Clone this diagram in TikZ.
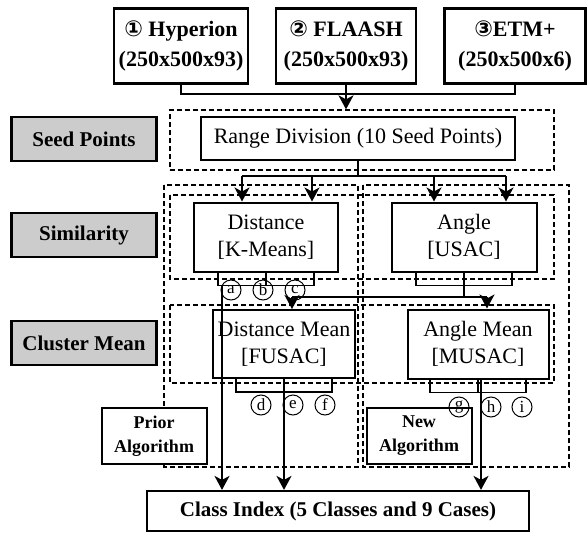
\documentclass[tikz,border=0pt]{standalone}
\usepackage{fontspec}
\setmainfont{Liberation Serif}
\newfontfamily\circfont{DejaVu Sans}
\usetikzlibrary{arrows.meta}

\begin{document}
\begin{tikzpicture}[x=1pt, y=-1pt,
	font=\fontsize{22}{27}\selectfont,
	srcbox/.style={draw, line width=2.2pt, fill=white, align=center, inner sep=0pt, font=\fontsize{22}{30}\selectfont\bfseries},
	stagebox/.style={draw, line width=2.2pt, fill=gray!40, inner sep=0pt, minimum width=145pt, minimum height=44pt, font=\fontsize{21}{24}\selectfont\bfseries},
	procbox/.style={draw, line width=2pt, fill=white, align=center, inner sep=0pt},
	algbox/.style={draw, line width=2pt, fill=white, align=center, inner sep=0pt, minimum width=105pt, minimum height=56pt, font=\fontsize{18}{24}\selectfont\bfseries},
	grp/.style={draw, line width=1.3pt, dash pattern=on 5pt off 3pt},
	link/.style={line width=1.9pt},
	comb/.style={line width=1.5pt},
	arr/.style={link, -{Stealth[length=14pt, width=15pt, inset=4pt]}},
	case/.style={draw, circle, line width=1pt, minimum size=20pt, inner sep=0pt, font=\fontsize{17}{17}\selectfont}]
	\useasboundingbox (0,0) rectangle (587,533);
	% dashed groups
	\draw[grp] (164,185) rectangle (358,467);
	\draw[grp] (363,185) rectangle (569,467);
	\draw[grp] (170,195) rectangle (554,279);
	\draw[grp] (170,305) rectangle (554,383);
	\node[grp, minimum width=384pt, minimum height=60pt] (seedgrp) at (362,140) {};
	% inputs
	\node[srcbox, minimum width=134pt, minimum height=75pt] (hyp) at (181,46) {{\circfont ①} Hyperion\\(250x500x93)};
	\node[srcbox, minimum width=140pt, minimum height=75pt] (fla) at (346,46) {{\circfont ②} FLAASH\\(250x500x93)};
	\node[srcbox, minimum width=141pt, minimum height=75pt] (etm) at (515,46) {{\circfont ③}ETM+\\(250x500x6)};
	% stages
	\node[stagebox] (seedlbl) at (84,139) {Seed Points};
	\node[stagebox] (simlbl) at (84,235) {Similarity};
	\node[stagebox] (clulbl) at (84,343) {Cluster Mean};
	% processing
	\node[procbox, minimum width=314pt, minimum height=43pt] (range) at (358,138) {Range Division (10 Seed Points)};
	\node[procbox, minimum width=144pt, minimum height=69pt] (dist) at (266,237) {Distance\\{}[K-Means]};
	\node[procbox, minimum width=145pt, minimum height=69pt] (ang) at (464,237) {Angle\\{}[USAC]};
	\node[procbox, minimum width=142pt, minimum height=68pt] (dmean) at (284,344) {Distance Mean\\{}[FUSAC]};
	\node[procbox, minimum width=141pt, minimum height=69pt] (amean) at (478,344) {Angle Mean\\{}[MUSAC]};
	\node[algbox] (prior) at (154,436) {Prior\\Algorithm};
	\node[algbox] (new) at (419,436) {New\\Algorithm};
	\node[srcbox, minimum width=382pt, minimum height=40pt, font=\fontsize{21}{24}\selectfont\bfseries] (cls) at (338,511) {Class Index (5 Classes and 9 Cases)};
	% connectors
	\coordinate (topbar) at (0,94);
	\draw[link] (hyp.south) -- (hyp.south |- topbar) -| (etm.south);
	\draw[arr] (fla.south) -- (fla.south |- seedgrp.north);
	\coordinate (splitbar) at (0,176);
	\draw[link] (range.south) -- (range.south |- splitbar);
	\draw[link] ([xshift=-24pt]dist.north |- splitbar) -- ([xshift=42pt]ang.north |- splitbar);
	\foreach \n/\dx in {dist/-24, dist/46, ang/-30, ang/42}
		\draw[arr] ([xshift=\dx pt]\n.north |- splitbar) -- ([xshift=\dx pt]\n.north);
	\foreach \n in {dist, ang, dmean, amean} {
		\draw[comb] ([xshift=-48pt]\n.south) -- ++(0,13) -| ([xshift=48pt]\n.south);
		\draw[comb] (\n.south) -- ++(0,13);
	}
	\draw[arr] ([xshift=-44pt, yshift=-13pt]dist.south) -- ([xshift=-44pt]dist.south |- cls.north);
	\coordinate (meanbar) at (0,297);
	\draw[link] (ang.south) -- (ang.south |- meanbar);
	\draw[link] ([xshift=8pt]dmean.north |- meanbar) -- ([xshift=9pt]amean.north |- meanbar);
	\draw[arr] ([xshift=8pt]dmean.north |- meanbar) -- ([xshift=8pt]dmean.north);
	\draw[arr] ([xshift=9pt]amean.north |- meanbar) -- ([xshift=9pt]amean.north);
	\draw[arr] (dmean.south) -- (dmean.south |- cls.north);
	\draw[arr] ([xshift=3pt]amean.south) -- ([xshift=3pt]amean.south |- cls.north);
	% cases
	\foreach \c/\x/\y in {a/231/290, b/263/290, c/295/290, d/261/405, e/293/405, f/325/405, g/459/407, h/491/407, i/522/407}
		\node[case] (case\c) at (\x,\y) {\c};
\end{tikzpicture}
\end{document}
